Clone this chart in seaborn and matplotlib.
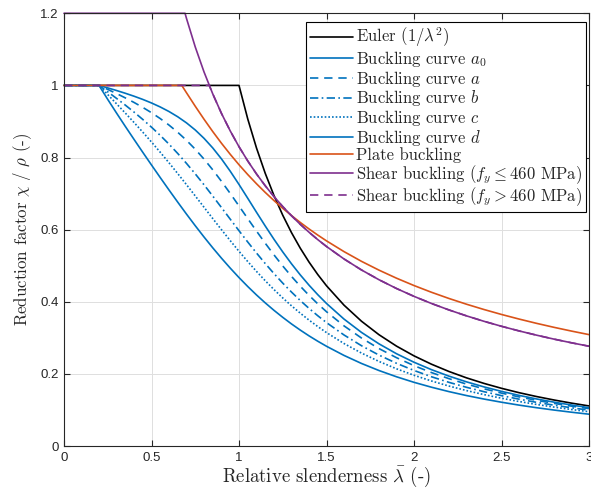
import numpy as np
import pandas as pd
import matplotlib
matplotlib.use("Agg")
import matplotlib.pyplot as plt
import seaborn as sns

# Relative slenderness grid for the column buckling curves
lam_col = [0.0, 0.20, 0.25, 0.30, 0.35, 0.40, 0.45, 0.50, 0.55, 0.60, 0.65, 0.70,
           0.75, 0.80, 0.85, 0.90, 0.95, 1.00, 1.05, 1.10, 1.15, 1.20, 1.25, 1.30,
           1.35, 1.40, 1.45, 1.50, 1.6, 1.7, 1.8, 1.9, 2.0, 2.1, 2.2, 2.3, 2.4,
           2.5, 2.6, 2.7, 2.8, 2.9, 3.0]

chi_a0 = [1.0, 1.0, 0.9931, 0.9859, 0.9783, 0.9701, 0.9612, 0.9513, 0.9402, 0.9276,
          0.9130, 0.8961, 0.8764, 0.8533, 0.8266, 0.7961, 0.7620, 0.7253, 0.6870,
          0.6482, 0.6101, 0.5732, 0.5382, 0.5053, 0.4746, 0.4461, 0.4197, 0.3953,
          0.3520, 0.3150, 0.2833, 0.2559, 0.2323, 0.2117, 0.1937, 0.1779, 0.1639,
          0.1515, 0.1404, 0.1305, 0.1216, 0.1136, 0.1063]
chi_a = [1.0, 1.0, 0.9889, 0.9775, 0.9655, 0.9528, 0.9391, 0.9243, 0.9080, 0.8900,
         0.8700, 0.8477, 0.8230, 0.7957, 0.7659, 0.7339, 0.7003, 0.6656, 0.6306,
         0.5960, 0.5623, 0.5300, 0.4993, 0.4703, 0.4432, 0.4179, 0.3943, 0.3724,
         0.3332, 0.2994, 0.2702, 0.2449, 0.2229, 0.2036, 0.1867, 0.1717, 0.1585,
         0.1467, 0.1362, 0.1267, 0.1182, 0.1105, 0.1036]
chi_b = [1.0, 1.0, 0.9822, 0.9641, 0.9455, 0.9261, 0.9057, 0.8842, 0.8614, 0.8371,
         0.8112, 0.7837, 0.7547, 0.7245, 0.6931, 0.6612, 0.6290, 0.5970, 0.5657,
         0.5352, 0.5060, 0.4781, 0.4517, 0.4269, 0.4035, 0.3817, 0.3613, 0.3422,
         0.3079, 0.2781, 0.2521, 0.2294, 0.2095, 0.1920, 0.1765, 0.1628, 0.1506,
         0.1397, 0.1299, 0.1211, 0.1132, 0.1060, 0.0994]
chi_c = [1.0, 1.0, 0.9746, 0.9491, 0.9235, 0.8973, 0.8705, 0.8430, 0.8146, 0.7854,
         0.7554, 0.7247, 0.6935, 0.6622, 0.6308, 0.5998, 0.5695, 0.5399, 0.5115,
         0.4842, 0.4583, 0.4338, 0.4106, 0.3888, 0.3684, 0.3492, 0.3313, 0.3145,
         0.2842, 0.2577, 0.2345, 0.2141, 0.1962, 0.1803, 0.1662, 0.1537, 0.1425,
         0.1325, 0.1234, 0.1153, 0.1079, 0.1012, 0.0951]
chi_d = [1.0, 1.0, 0.9611, 0.9235, 0.8866, 0.8504, 0.8146, 0.7793, 0.7444, 0.7100,
         0.6762, 0.6431, 0.6109, 0.5797, 0.5496, 0.5208, 0.4933, 0.4671, 0.4423,
         0.4189, 0.3969, 0.3762, 0.3568, 0.3385, 0.3215, 0.3055, 0.2906, 0.2766,
         0.2512, 0.2289, 0.2093, 0.1920, 0.1766, 0.1630, 0.1508, 0.1399, 0.1302,
         0.1214, 0.1134, 0.1062, 0.0997, 0.0937, 0.0882]

# Euler hyperbola, capped at 1
lam_eul = [0.0, 1.00, 1.05, 1.10, 1.15, 1.20, 1.25, 1.30, 1.35, 1.40, 1.45, 1.50,
           1.6, 1.7, 1.8, 1.9, 2.0, 2.1, 2.2, 2.3, 2.4, 2.5, 2.6, 2.7, 2.8, 2.9, 3.0]
chi_eul = [1.0, 1.0, 0.9070, 0.8264, 0.7561, 0.6944, 0.6400, 0.5917, 0.5487, 0.5102,
           0.4756, 0.4444, 0.3906, 0.3460, 0.3086, 0.2770, 0.2500, 0.2268, 0.2066,
           0.1890, 0.1736, 0.1600, 0.1479, 0.1372, 0.1276, 0.1189, 0.1111]

# Plate buckling reduction factor (internal element)
lam_pl = [0.0, 0.673, 0.70, 0.75, 0.80, 0.85, 0.90, 0.95, 1.00, 1.05, 1.10, 1.15,
          1.20, 1.25, 1.30, 1.35, 1.40, 1.45, 1.50, 1.6, 1.7, 1.8, 1.9, 2.0, 2.1,
          2.2, 2.3, 2.4, 2.5, 2.6, 2.7, 2.8, 2.9, 3.0]
rho_pl = [1.0, 1.0, 0.9796, 0.9422, 0.9063, 0.8720, 0.8395, 0.8089, 0.7800, 0.7528,
          0.7273, 0.7032, 0.6806, 0.6592, 0.6391, 0.6200, 0.6020, 0.5850, 0.5689,
          0.5391, 0.5121, 0.4877, 0.4654, 0.4450, 0.4263, 0.4091, 0.3932, 0.3785,
          0.3648, 0.3521, 0.3402, 0.3291, 0.3187, 0.3089]

# Shear buckling, eta = 1.2 (fy <= 460 MPa)
lam_sh1 = [0.0, 0.6917, 0.70, 0.75, 0.80, 0.85, 0.90, 0.95, 1.00, 1.05, 1.10, 1.15,
           1.20, 1.25, 1.30, 1.35, 1.40, 1.45, 1.50, 1.6, 1.7, 1.8, 1.9, 2.0, 2.1,
           2.2, 2.3, 2.4, 2.5, 2.6, 2.7, 2.8, 2.9, 3.0]
chi_sh1 = [1.2, 1.2, 1.1857, 1.1067, 1.0375, 0.9765, 0.9222, 0.8737, 0.8300, 0.7905,
           0.7545, 0.7217, 0.6917, 0.6640, 0.6385, 0.6148, 0.5929, 0.5724, 0.5533,
           0.5187, 0.4882, 0.4611, 0.4368, 0.4150, 0.3952, 0.3773, 0.3609, 0.3458,
           0.3320, 0.3192, 0.3074, 0.2964, 0.2862, 0.2767]

# Shear buckling, eta = 1.0 (fy > 460 MPa)
lam_sh2 = [0.0, 0.83, 0.85, 0.90, 0.95, 1.00, 1.05, 1.10, 1.15, 1.20, 1.25, 1.30,
           1.35, 1.40, 1.45, 1.50, 1.6, 1.7, 1.8, 1.9, 2.0, 2.1, 2.2, 2.3, 2.4,
           2.5, 2.6, 2.7, 2.8, 2.9, 3.0]
chi_sh2 = [1.0, 1.0, 0.9765, 0.9222, 0.8737, 0.8300, 0.7905, 0.7545, 0.7217, 0.6917,
           0.6640, 0.6385, 0.6148, 0.5929, 0.5724, 0.5533, 0.5187, 0.4882, 0.4611,
           0.4368, 0.4150, 0.3952, 0.3773, 0.3609, 0.3458, 0.3320, 0.3192, 0.3074,
           0.2964, 0.2862, 0.2767]

x_ticks = [0, 0.5, 1, 1.5, 2, 2.5, 3]
x_ticklabels = ["0", "0.5", "1", "1.5", "2", "2.5", "3"]
y_ticks = [0, 0.2, 0.4, 0.6, 0.8, 1.0, 1.2]
y_ticklabels = ["0", "0.2", "0.4", "0.6", "0.8", "1", "1.2"]

BLUE = "#0072BD"
ORANGE = "#D95319"
PURPLE = "#7E2F8E"

sns.set_theme(style="whitegrid")
plt.rcParams["mathtext.fontset"] = "cm"
plt.rcParams["font.family"] = ["Liberation Sans", "DejaVu Sans"]
plt.rcParams["axes.unicode_minus"] = False

fig = plt.figure(figsize=(5.91, 4.94), dpi=100)
ax = fig.add_axes([64 / 591, 48 / 494, 525 / 591, 432.7 / 494])

series = [
    (lam_eul, chi_eul, "black", "-", r"Euler $(1/\lambda^2)$"),
    (lam_col, chi_a0, BLUE, "-", r"Buckling curve $a_0$"),
    (lam_col, chi_a, BLUE, (0, (5, 3.5)), r"Buckling curve $a$"),
    (lam_col, chi_b, BLUE, (0, (5, 2, 1, 2)), r"Buckling curve $b$"),
    (lam_col, chi_c, BLUE, (0, (1, 1.2)), r"Buckling curve $c$"),
    (lam_col, chi_d, BLUE, "-", r"Buckling curve $d$"),
    (lam_pl, rho_pl, ORANGE, "-", "Plate buckling"),
    (lam_sh1, chi_sh1, PURPLE, "-", r"Shear buckling $(f_y \leq 460$ MPa$)$"),
    (lam_sh2, chi_sh2, PURPLE, (0, (5, 3.5)), r"Shear buckling $(f_y > 460$ MPa$)$"),
]

for xs, ys, col, ls, lab in series:
    df = pd.DataFrame({"lam": xs, "chi": ys})
    sns.lineplot(data=df, x="lam", y="chi", ax=ax, color=col, linestyle=ls,
                 linewidth=1.2, label=lab, sort=False, estimator=None,
                 clip_on=False)

ax.set_xlim(0, 3)
ax.set_ylim(0, 1.2)
ax.set_xticks(x_ticks)
ax.set_xticklabels(x_ticklabels)
ax.set_yticks(y_ticks)
ax.set_yticklabels(y_ticklabels)

ax.set_facecolor("white")
ax.grid(True, color="#dfdfdf", linewidth=0.7)
for s in ax.spines.values():
    s.set_visible(True)
    s.set_color("#262626")
    s.set_linewidth(0.8)
ax.tick_params(axis="both", which="major", direction="in", length=4, width=0.8,
               color="#262626", labelcolor="#262626", labelsize=9.5,
               top=True, right=True, bottom=True, left=True, pad=4)

ax.set_xlabel(r"Relative slenderness $\bar{\lambda}$ (-)", family="cmr10",
              fontsize=13.5, color="#262626", labelpad=1)
ax.set_ylabel(r"Reduction factor $\chi$ / $\rho$ (-)", family="cmr10",
              fontsize=12.2, color="#262626", labelpad=4)

leg = ax.legend(loc="upper right", bbox_to_anchor=(0.9943, 0.980), borderaxespad=0,
                prop={"family": "cmr10", "size": 12}, frameon=True,
                fancybox=False, framealpha=1, edgecolor="black",
                handlelength=2.6, handletextpad=0.2, labelspacing=-0.02,
                borderpad=0.22)
leg.get_frame().set_linewidth(0.8)

fig.savefig("out.png", dpi=100)
